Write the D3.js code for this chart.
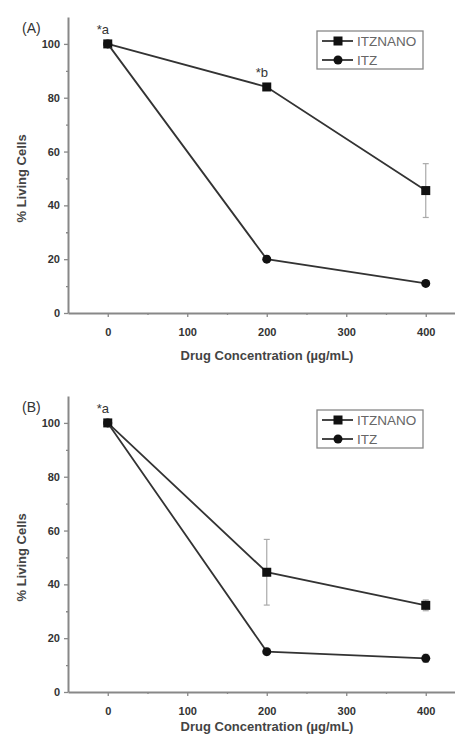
<!DOCTYPE html>
<html lang="en">
<head>
<meta charset="UTF-8">
<title>Cell viability</title>
<script src="https://d3js.org/d3.v7.min.js"></script>
<style>
  body { margin: 0; background: #fff; }
  text { font-family: "Liberation Sans", Arial, sans-serif; }
</style>
</head>
<body>
<script>
// drug concentrations (ug/mL)
var concentrations = [0, 200, 400];
var seriesNames = ['ITZNANO', 'ITZ'];
var xTicks = [0, 100, 200, 300, 400];
var xMinor = [50, 150, 250, 350];
var yTicks = [0, 20, 40, 60, 80, 100];
var yMinor = [10, 30, 50, 70, 90];

// panel A
var nanoA = [100, 84, 45.5];
var nanoErrA = [0, 0.8, 10];
var itzA = [100, 20, 11];
var itzErrA = [0, 1.2, 1];
// panel B
var nanoB = [100, 44.5, 32.2];
var nanoErrB = [0, 12.2, 2];
var itzB = [100, 15, 12.5];
var itzErrB = [0, 1.2, 1.5];

var w = 455, h = 735;
var svg = d3.select('body').append('svg')
    .attr('width', w)
    .attr('height', h);

function panel(top, label, nano, nanoErr, itz, itzErr, notes, titleGap) {
    var g = svg.append('g').attr('transform', 'translate(0,' + top + ')');

    var x = d3.scaleLinear().domain([-50, 450]).range([68, 465.5]);
    var y = d3.scaleLinear().domain([0, 110]).range([296, 0]);

    // minor ticks
    g.append('g')
        .attr('transform', 'translate(0,' + y(0) + ')')
        .call(d3.axisBottom(x).tickValues(xMinor).tickSize(2).tickFormat(''))
        .call(function(a) { a.select('.domain').remove(); });
    g.append('g')
        .attr('transform', 'translate(' + x(-50) + ',0)')
        .call(d3.axisLeft(y).tickValues(yMinor).tickSize(2).tickFormat(''))
        .call(function(a) { a.select('.domain').remove(); });

    var xAxis = g.append('g')
        .attr('transform', 'translate(0,' + y(0) + ')')
        .call(d3.axisBottom(x).tickValues(xTicks).tickSize(4).tickSizeOuter(0).tickPadding(11));
    var yAxis = g.append('g')
        .attr('transform', 'translate(' + x(-50) + ',0)')
        .call(d3.axisLeft(y).tickValues(yTicks).tickSize(4).tickSizeOuter(0).tickPadding(4));

    [xAxis, yAxis].forEach(function(a) {
        a.selectAll('.domain').attr('stroke', '#888').attr('stroke-width', 2);
        a.selectAll('.tick text').attr('fill', '#333').attr('font-size', 11).attr('font-weight', 'bold');
    });
    g.selectAll('.tick line').attr('stroke', '#888').attr('stroke-width', 1.3);

    // axis titles
    g.append('text')
        .attr('x', 267).attr('y', y(0) + titleGap)
        .attr('text-anchor', 'middle')
        .attr('font-size', 13).attr('font-weight', 'bold').attr('fill', '#444')
        .text('Drug Concentration (\u00b5g/mL)');
    g.append('text')
        .attr('transform', 'translate(26,' + y(50) + ') rotate(-90)')
        .attr('text-anchor', 'middle')
        .attr('font-size', 13).attr('font-weight', 'bold').attr('fill', '#444')
        .text('% Living Cells');

    // panel letter
    g.append('text')
        .attr('x', 22).attr('y', y(104))
        .attr('font-size', 14).attr('fill', '#333')
        .text(label);

    var line = d3.line()
        .x(function(d, i) { return x(concentrations[i]); })
        .y(function(d) { return y(d); });

    var sets = [
        { vals: nano, err: nanoErr, shape: 'square' },
        { vals: itz, err: itzErr, shape: 'circle' }
    ];

    // error bars
    sets.forEach(function(s) {
        s.vals.forEach(function(v, i) {
            if (!s.err[i]) return;
            var cx = x(concentrations[i]);
            var eb = g.append('g').attr('stroke', '#aaa').attr('stroke-width', 1.2);
            eb.append('line').attr('x1', cx).attr('x2', cx)
                .attr('y1', y(v - s.err[i])).attr('y2', y(v + s.err[i]));
            eb.append('line').attr('x1', cx - 3).attr('x2', cx + 3)
                .attr('y1', y(v - s.err[i])).attr('y2', y(v - s.err[i]));
            eb.append('line').attr('x1', cx - 3).attr('x2', cx + 3)
                .attr('y1', y(v + s.err[i])).attr('y2', y(v + s.err[i]));
        });
    });

    sets.forEach(function(s) {
        g.append('path')
            .datum(s.vals)
            .attr('d', line)
            .attr('fill', 'none')
            .attr('stroke', '#333')
            .attr('stroke-width', 1.8);
        s.vals.forEach(function(v, i) {
            var cx = x(concentrations[i]), cy = y(v);
            if (s.shape === 'square') {
                g.append('rect')
                    .attr('x', cx - 4.5).attr('y', cy - 4.5)
                    .attr('width', 9).attr('height', 9)
                    .attr('fill', '#111');
            } else {
                g.append('circle')
                    .attr('cx', cx).attr('cy', cy).attr('r', 4.5)
                    .attr('fill', '#111');
            }
        });
    });

    // significance notes
    notes.forEach(function(n) {
        g.append('text')
            .attr('x', x(concentrations[n.i]) - 11)
            .attr('y', y(n.v) - 10)
            .attr('font-size', 13).attr('fill', '#333')
            .text(n.t);
    });

    // legend
    var lg = g.append('g').attr('transform', 'translate(317,' + (y(110) + 14) + ')');
    lg.append('rect')
        .attr('width', 106).attr('height', 38)
        .attr('fill', '#fff').attr('stroke', '#888').attr('stroke-width', 1.3);
    seriesNames.forEach(function(name, i) {
        var ly = 10 + i * 19;
        lg.append('line').attr('x1', 5).attr('x2', 36).attr('y1', ly).attr('y2', ly)
            .attr('stroke', '#333').attr('stroke-width', 1.8);
        if (i === 0) {
            lg.append('rect').attr('x', 16.5).attr('y', ly - 4.5).attr('width', 9).attr('height', 9).attr('fill', '#111');
        } else {
            lg.append('circle').attr('cx', 21).attr('cy', ly).attr('r', 4.5).attr('fill', '#111');
        }
        lg.append('text').attr('x', 40).attr('y', ly + 5)
            .attr('font-size', 13.5).attr('fill', '#666')
            .text(name);
    });
}

panel(17, '(A)', nanoA, nanoErrA, itzA, itzErrA,
    [{ i: 0, v: 100, t: '*a' }, { i: 1, v: 84, t: '*b' }], 47);
panel(396, '(B)', nanoB, nanoErrB, itzB, itzErrB,
    [{ i: 0, v: 100, t: '*a' }], 39);
</script>
</body>
</html>
